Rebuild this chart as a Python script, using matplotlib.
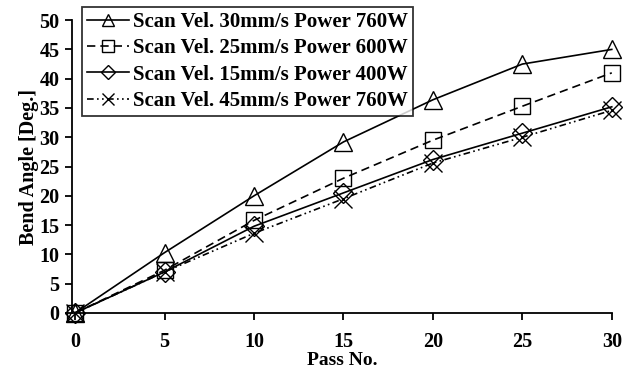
import matplotlib.pyplot as plt

passes = [0, 5, 10, 15, 20, 25, 30]
v30_p760 = [0, 10.3, 20.0, 29.2, 36.4, 42.5, 45.0]
v25_p600 = [0, 7.3, 15.8, 23.0, 29.5, 35.3, 41.0]
v15_p400 = [0, 7.0, 14.8, 20.5, 26.2, 30.7, 35.2]
v45_p760 = [0, 7.0, 13.6, 19.5, 25.6, 30.0, 34.6]
labels = ["Scan Vel. 30mm/s Power 760W", "Scan Vel. 25mm/s Power 600W",
          "Scan Vel. 15mm/s Power 400W", "Scan Vel. 45mm/s Power 760W"]

plt.rcParams['font.family'] = ['Liberation Serif', 'DejaVu Serif']
plt.rcParams['font.weight'] = 'bold'

fig = plt.figure(figsize=(6.32, 3.73), dpi=100)
ax = fig.add_axes([0.114, 0.161, 0.854, 0.785])

mk = dict(color='black', markerfacecolor='none', markeredgecolor='black',
          markersize=13, markeredgewidth=1.0, linewidth=1.2, clip_on=False)
ax.plot(passes, v30_p760, linestyle='-', marker='^', label=labels[0], **mk)
ax.plot(passes, v25_p600, linestyle=(0, (5, 3)), marker='s', label=labels[1],
        **{**mk, 'markersize': 12})
ax.plot(passes, v15_p400, linestyle='-', marker='D', label=labels[2],
        **{**mk, 'markersize': 10})
ax.plot(passes, v45_p760, linestyle=(0, (4, 2, 1, 2, 1, 2)), marker='x',
        label=labels[3], **mk)

ax.set_xlim(-0.17, 30)
ax.set_ylim(0, 50)
ax.set_xticks(range(0, 31, 5))
ax.set_yticks(range(0, 51, 5))
ax.spines['top'].set_visible(False)
ax.spines['right'].set_visible(False)
for s in ('left', 'bottom'):
    ax.spines[s].set_linewidth(1.3)
ax.tick_params(direction='out', length=5, width=1.3, labelsize=14.5)
ax.tick_params(axis='x', pad=9)
ax.tick_params(axis='y', pad=4)
for t in ax.get_xticklabels() + ax.get_yticklabels():
    t.set_fontweight('bold')

ax.set_xlabel('Pass No.', fontsize=14, fontweight='bold', labelpad=0)
ax.set_ylabel('Bend Angle [Deg.]', fontsize=14.5, fontweight='bold', labelpad=0)

leg = ax.legend(loc='upper left', bbox_to_anchor=(0.018, 1.045),
                prop={'weight': 'bold', 'size': 15}, frameon=True,
                fancybox=False, edgecolor='black', handlelength=2.0,
                handletextpad=0.2, borderpad=0.25, labelspacing=0.3,
                borderaxespad=0.0, markerscale=0.7)
leg.get_frame().set_linewidth(1.3)
leg.set_zorder(5)

fig.savefig('out.png', dpi=100)
